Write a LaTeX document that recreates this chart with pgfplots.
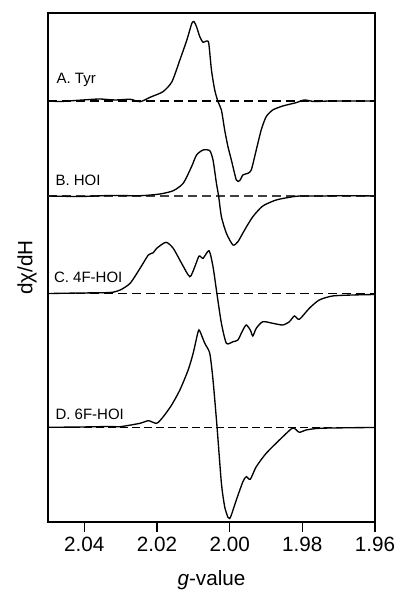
\documentclass[border=0pt]{standalone}
\usepackage{pgfplots}
\pgfplotsset{compat=1.18}
\usepackage{fontspec}
\setmainfont{Liberation Sans}
\begin{document}
\begin{tikzpicture}
\begin{axis}[
  scale only axis, width=245.25pt, height=381.75pt,
  x dir=reverse, xmin=1.96, xmax=2.05, ymin=0, ymax=509,
  xtick={1.96,1.98,2.00,2.02,2.04},
  xticklabels={1.96,1.98,2.00,2.02,2.04},
  ytick=\empty, xtick pos=lower, tick align=outside,
  major tick length=7.5pt,
  every tick/.style={black, line width=1pt},
  axis line style={line width=1pt},
  ticklabel style={font=\fontsize{15.5}{18}\selectfont},
  /pgf/number format/assume math mode=true,
  xlabel={\textit{g}-value}, ylabel={dχ/dH},
  label style={font=\fontsize{15.5}{18}\selectfont},
  ylabel style={at={(axis description cs:-0.064,0.5)}, anchor=center},
  xlabel style={at={(axis description cs:0.5,-0.114)}, anchor=center},
  every axis plot/.append style={line width=1pt, black},
]
% baselines
\addplot[dashed, dash pattern=on 6.75pt off 3.75pt, line width=0.9pt] coordinates {(2.05,421) (1.96,421)};
\addplot[dashed, dash pattern=on 6.75pt off 3.75pt, line width=0.8pt, black!75] coordinates {(2.05,326) (1.96,326)};
\addplot[dashed, dash pattern=on 6.75pt off 3.75pt, line width=0.9pt] coordinates {(2.05,228.5) (1.96,228.5)};
\addplot[dashed, dash pattern=on 6pt off 3pt, line width=0.7pt] coordinates {(2.05,95) (1.96,95)};
% A. Tyr
\addplot[smooth, tension=0.4] coordinates {
(2.04986,421) (2.04658,420.5) (2.04247,421.5) (2.03836,422.5) (2.03562,423) (2.03151,422)
(2.02740,422.7) (2.02466,420.3) (2.02192,424.7) (2.01836,430.3) (2.01589,440.3) (2.01370,462)
(2.01178,482) (2.01041,498.7) (2.00978,500.3) (2.00912,495.3) (2.00822,485.3) (2.00732,479.7)
(2.00638,481) (2.00575,478.7) (2.00501,452) (2.00411,432) (2.00321,420.3) (2.00227,412)
(2.00137,392) (2.00047,375.3) (1.99953,362) (1.99816,342) (1.99726,341.3) (1.99636,347)
(1.99499,348.7) (1.99405,352) (1.99268,372) (1.99132,392) (1.98995,405.3) (1.98814,412)
(1.98540,416) (1.98173,419.3) (1.97945,422) (1.97671,420.5) (1.97260,421) (1.96712,421) (1.9600,421)
};
% B. HOI
\addplot[smooth, tension=0.4] coordinates {
(2.04986,326) (2.04110,325.5) (2.03288,326.5) (2.02466,326.3) (2.01918,328) (2.01553,331.3)
(2.01279,338.7) (2.01049,355.3) (2.00912,367) (2.00732,372) (2.00548,371.3) (2.00458,362)
(2.00364,338.7) (2.00301,325.3) (2.00227,305.3) (2.00090,288.7) (1.99910,277) (1.99773,280.3)
(1.99589,292) (1.99362,305.3) (1.99088,316) (1.98721,322) (1.98356,324.7) (1.98082,326)
(1.97534,326) (1.96712,326.3) (1.9600,326)
};
% C. 4F-HOI
\addplot[smooth, tension=0.4] coordinates {
(2.04986,228.5) (2.04110,229) (2.03288,229.5) (2.03014,232) (2.02740,238.7) (2.02466,253.7)
(2.02238,267) (2.02101,269.3) (2.02008,273.7) (2.01753,279.7) (2.01553,273.7) (2.01323,258.7)
(2.01096,245.3) (2.00959,255.3) (2.00841,266) (2.00732,263.7) (2.00567,271.3) (2.00458,255.3)
(2.00348,227.7) (2.00227,198.7) (2.00090,178.7) (1.99910,180.3) (1.99773,182) (1.99636,192)
(1.99542,197) (1.99433,192) (1.99362,186) (1.99268,193.7) (1.99088,200.3) (1.98814,198.7)
(1.98540,197) (1.98356,200.3) (1.98219,206) (1.98082,202.7) (1.97808,213.7) (1.97534,222)
(1.97170,226) (1.96622,227) (1.9600,227.5)
};
% D. 6F-HOI
\addplot[smooth, tension=0.4] coordinates {
(2.04986,94.7) (2.04110,95) (2.03288,95.5) (2.03014,95.3) (2.02466,98.7) (2.02238,101.3)
(2.02008,98.7) (2.01827,105.3) (2.01597,117) (2.01370,132) (2.01142,152) (2.01005,168.7)
(2.00869,190.3) (2.00822,191) (2.00685,178.7) (2.00548,168.7) (2.00458,142) (2.00348,95.3)
(2.00227,38.7) (2.00137,15.3) (2.00047,4.7) (2.00000,3.5) (1.99953,7) (1.99816,22) (1.99636,40.3)
(1.99542,45.3) (1.99433,42.7) (1.99268,55.3) (1.98995,68.7) (1.98630,82) (1.98310,93)
(1.98219,93.7) (1.98082,89.7) (1.97899,92) (1.97534,93.7) (1.96622,94.3) (1.9600,94.5)
};
\node[anchor=west, inner sep=0pt, font=\fontsize{11.25}{13}\selectfont] at (axis cs:2.0477,442) {A. Tyr};
\node[anchor=west, inner sep=0pt, font=\fontsize{11.25}{13}\selectfont] at (axis cs:2.0480,342) {B. HOI};
\node[anchor=west, inner sep=0pt, font=\fontsize{11.25}{13}\selectfont] at (axis cs:2.0484,244.3) {C. 4F-HOI};
\node[anchor=west, inner sep=0pt, font=\fontsize{11.25}{13}\selectfont] at (axis cs:2.0480,108) {D. 6F-HOI};
\end{axis}
\pgfresetboundingbox
\path[use as bounding box] ([shift={(-36pt,-52.5pt)}]current axis.south west) rectangle ([shift={(18pt,9.75pt)}]current axis.north east);
\end{tikzpicture}
\end{document}
